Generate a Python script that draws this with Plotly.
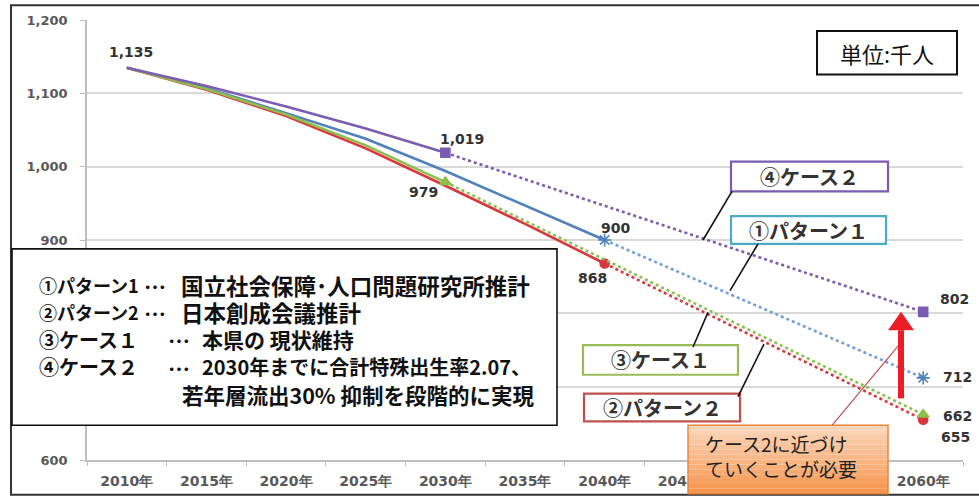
import plotly.graph_objects as go

# ---- data (population, thousands) ----
years = ["2010年", "2015年", "2020年", "2025年", "2030年", "2035年",
         "2040年", "2045年", "2050年", "2055年", "2060年"]

# ① パターン1: 国立社会保障・人口問題研究所推計
pattern1 = [1135, 1107, 1073, 1038, 994, 947, 900]
pattern1_2060 = 712
# ② パターン2: 日本創成会議推計
pattern2 = [1135, 1105, 1069, 1025, 974, 922, 868]
pattern2_2060 = 655
# ③ ケース1: 本県の現状維持
case1 = [1135, 1106, 1071, 1029, 979]
case1_2060 = 662
# ④ ケース2
case2 = [1135, 1110, 1082, 1052, 1019]
case2_2060 = 802

BLUE = "#4F81BD"
RED = "#D9363E"
GREEN = "#8CBF4B"
PURPLE = "#7A5CB2"

W, H = 979, 501
L, R, T, B = 87, 963, 20, 464


def px(x):
    return (x - L) / (R - L)


def py(y):
    return (B - y) / (B - T)


CJK = "Noto Sans CJK JP"
NUM = "DejaVu Sans"

fig = go.Figure()

series = [
    (pattern1, pattern1_2060, BLUE, "asterisk-open", 11, "#6FA0DC"),
    (pattern2, pattern2_2060, RED, "circle", 9, RED),
    (case1, case1_2060, GREEN, "triangle-up", 10, GREEN),
    (case2, case2_2060, PURPLE, "square", 9, PURPLE),
]

for vals, end, col, sym, msz, dotcol in series:
    xs = years[:len(vals)]
    fig.add_trace(go.Scatter(
        x=xs, y=vals, mode="lines",
        line=dict(color=col, width=2.6), showlegend=False, hoverinfo="skip"))
    fig.add_trace(go.Scatter(
        x=[xs[-1], years[-1]], y=[vals[-1], end], mode="lines+markers",
        line=dict(color=dotcol, width=2.6, dash="dot"),
        marker=dict(symbol=sym, size=msz, color=col,
                    line=dict(color=col, width=1.6)),
        showlegend=False, hoverinfo="skip"))

# ---- value labels ----
value_labels = [
    (years[0], case2[0], 4, 16),
    (years[4], case2[-1], 17, 14),
    (years[4], case1[-1], -22, -10),
    (years[6], pattern1[-1], 11, 12),
    (years[6], pattern2[-1], -12, -15),
    (years[-1], case2_2060, 31, 13),
    (years[-1], pattern1_2060, 34, 1),
    (years[-1], case1_2060, 34, -1),
    (years[-1], pattern2_2060, 32, -17),
]
for xv, yv, dx, dy in value_labels:
    fig.add_annotation(x=xv, y=yv, text=f"{yv:,}", showarrow=False,
                       xanchor="center", yanchor="middle",
                       xshift=dx, yshift=dy,
                       font=dict(family=NUM, size=14, color="#333333", weight=700))


def note(x, y, text, size, anchor="center", weight=400, color="#111111"):
    fig.add_annotation(xref="paper", yref="paper", x=px(x), y=py(y),
                       xanchor=anchor, yanchor="middle", text=text,
                       showarrow=False,
                       font=dict(family=CJK, size=size, color=color, weight=weight))


shapes = []

# outer frame
shapes.append(dict(type="rect", xref="paper", yref="paper",
                   x0=px(11), x1=px(990), y0=py(499), y1=py(5),
                   line=dict(color="#333333", width=2), layer="above"))

# description box
shapes.append(dict(type="rect", xref="paper", yref="paper",
                   x0=px(12), x1=px(557), y0=py(429), y1=py(251),
                   fillcolor="white", line=dict(color="#111111", width=1.6),
                   layer="above"))

# unit box
shapes.append(dict(type="rect", xref="paper", yref="paper",
                   x0=px(817), x1=px(957), y0=py(75), y1=py(31),
                   fillcolor="white", line=dict(color="#111111", width=2),
                   layer="above"))

# series name boxes: (x0, x1, y0, y1, border colour, text)
name_boxes = [
    (731, 888, 163, 193, PURPLE, "④ケース２"),
    (731, 886, 218, 246, "#4BACC6", "①パターン１"),
    (583, 738, 348, 378, "#9BBB59", "③ケース１"),
    (584, 740, 397, 425, "#C0504D", "②パターン２"),
]
for x0, x1, y0, y1, col, txt in name_boxes:
    shapes.append(dict(type="rect", xref="paper", yref="paper",
                       x0=px(x0), x1=px(x1), y0=py(y1), y1=py(y0),
                       fillcolor="white", line=dict(color=col, width=2.2),
                       layer="above"))
    note((x0 + x1) / 2, (y0 + y1) / 2, txt, 20, weight=700, color="#333333")

# connector lines from name boxes to their series
connectors = [
    (732, 193, 703, 242),
    (758, 246, 730, 293),
    (693, 350, 708, 315),
    (738, 400, 764, 347),
]
for x0, y0, x1, y1 in connectors:
    shapes.append(dict(type="line", xref="paper", yref="paper",
                       x0=px(x0), y0=py(y0), x1=px(x1), y1=py(y1),
                       line=dict(color="#111111", width=1.6), layer="above"))

# callout box with orange vertical gradient
c_x0, c_x1, c_top, c_bot = 688, 888, 429, 498
bands = 14
top_rgb = (252, 214, 185)
bot_rgb = (246, 150, 80)
for i in range(bands):
    f = i / (bands - 1)
    rgb = tuple(round(a + (b - a) * f) for a, b in zip(top_rgb, bot_rgb))
    ya = c_top + (c_bot - c_top) * i / bands
    yb = c_top + (c_bot - c_top) * (i + 1) / bands
    shapes.append(dict(type="rect", xref="paper", yref="paper",
                       x0=px(c_x0), x1=px(c_x1), y0=py(yb), y1=py(ya),
                       fillcolor="rgb(%d,%d,%d)" % rgb,
                       line=dict(width=0), layer="above"))
shapes.append(dict(type="rect", xref="paper", yref="paper",
                   x0=px(c_x0), x1=px(c_x1), y0=py(c_bot), y1=py(c_top),
                   line=dict(color="#E9873E", width=1.5), layer="above"))
# callout pointer
shapes.append(dict(type="line", xref="paper", yref="paper",
                   x0=px(832), y0=py(429), x1=px(903), y1=py(343),
                   line=dict(color="#C0504D", width=1.2), layer="above"))

# red arrow lifting toward case 2 level
arrow_x = 901
arrow_base = 684
arrow_neck = 777
shapes.append(dict(type="rect", xref="paper", yref="y",
                   x0=px(arrow_x - 3), x1=px(arrow_x + 3),
                   y0=arrow_base, y1=arrow_neck,
                   fillcolor="#EE1C25", line=dict(width=0), layer="above"))
neck_y = B - (arrow_neck - 600) * (B - T) / 600
tip_y = B - (case2_2060 - 600) * (B - T) / 600
shapes.append(dict(type="path", xref="paper", yref="paper",
                   path="M %f %f L %f %f L %f %f Z" % (
                       px(arrow_x - 13), py(neck_y),
                       px(arrow_x + 13), py(neck_y),
                       px(arrow_x), py(tip_y)),
                   fillcolor="#EE1C25", line=dict(width=0), layer="above"))

# text inside the description box: prefix, leader, body
desc = [
    (287, "①パターン1", 18, 142, 179, "国立社会保障･人口問題研究所推計", 22.5),
    (315, "②パターン2", 18, 142, 179, "日本創成会議推計", 22.5),
    (342, "③ケース１", 20, 166, 200, "本県の 現状維持", 21),
    (370, "④ケース２", 20, 166, 200, "2030年までに合計特殊出生率2.07、", 20),
]
for y, prefix, psize, lx, bx, body, bsize in desc:
    note(37, y, prefix, psize, anchor="left", weight=700)
    note(lx, y, "…", 22, anchor="left", weight=700)
    note(bx, y, body, bsize, anchor="left", weight=700)
note(180, 398, "若年層流出30% 抑制を段階的に実現", 21.5, anchor="left", weight=700)

note(887, 53, "単位:千人", 22)

note(703, 447, "ケース2に近づけ", 19, anchor="left", color="#222222")
note(703, 473, "ていくことが必要", 19, anchor="left", color="#222222")

fig.update_layout(
    width=W, height=H,
    margin=dict(l=L, r=W - R, t=T, b=H - B),
    paper_bgcolor="white", plot_bgcolor="white",
    shapes=shapes,
    xaxis=dict(type="category", categoryorder="array", categoryarray=years,
               range=[-0.5, len(years) - 0.5], showgrid=False,
               showline=True, linecolor="#BFBFBF", linewidth=1.5,
               ticks="outside", tickson="boundaries", ticklen=4,
               tickcolor="#BFBFBF", ticklabelstandoff=7,
               tickfont=dict(family=NUM, size=14, color="#595959", weight=700)),
    yaxis=dict(range=[600, 1200], dtick=100, tickformat=",",
               showgrid=True, gridcolor="#D9D9D9", gridwidth=1.5,
               showline=True, linecolor="#BFBFBF", linewidth=1.5,
               ticks="outside", ticklen=5, tickcolor="#BFBFBF",
               ticklabelstandoff=10, zeroline=False,
               tickfont=dict(family=NUM, size=13, color="#595959", weight=700)),
)

fig.write_html("out.html")
